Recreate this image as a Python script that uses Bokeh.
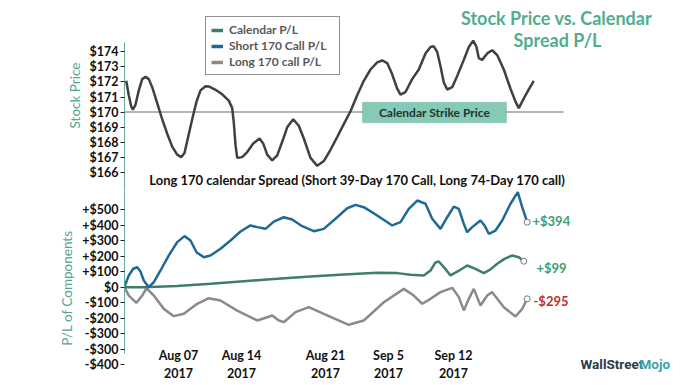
from bokeh.plotting import figure
from bokeh.layouts import column
from bokeh.models import (Range1d, FixedTicker, Legend, LegendItem, Label, BoxAnnotation)
from bokeh.embed import file_html
from bokeh.resources import INLINE

# ---------------- data ----------------
stock_x = [0.17, 0.43, 0.67, 0.83, 1.1, 1.43, 1.77, 2.1, 2.43, 2.77, 3.27, 3.77, 4.27, 4.77, 5.27, 5.67,
           6.0, 6.33, 6.77, 7.2, 7.6, 8.1, 8.43, 9.1, 9.77, 10.43, 10.77, 10.93, 11.1, 11.27, 11.77, 12.27,
           12.87, 13.5, 13.87, 14.27, 14.77, 15.27, 15.77, 16.27, 16.87, 17.43, 17.93, 18.6, 19.27, 19.93,
           20.6, 21.27, 21.93, 22.6, 23.27, 23.93, 24.6, 25.27, 25.77, 26.27, 26.77, 27.27, 27.6, 28.1,
           28.77, 29.43, 30.1, 30.6, 30.93, 31.27, 31.6, 31.93, 32.27, 32.77, 33.27, 33.93, 34.43, 34.87,
           35.2, 35.43, 35.77, 36.27, 36.77, 37.27, 37.93, 38.6, 39.1, 39.43, 39.93, 40.43, 40.93]
stock_price = [172.08, 171.12, 170.37, 170.16, 170.48, 171.44, 172.19, 172.34, 172.19, 171.65, 170.59,
               169.52, 168.56, 167.70, 167.17, 167.0, 167.27, 168.24, 169.52, 170.69, 171.44, 171.72,
               171.70, 171.48, 171.18, 170.76, 170.26, 169.30, 167.81, 166.95, 167.0, 167.34, 167.91,
               168.24, 167.91, 167.17, 166.78, 167.12, 168.02, 168.98, 169.52, 169.09, 168.24, 166.95,
               166.42, 166.74, 167.49, 168.34, 169.20, 170.05, 171.12, 172.08, 172.83, 173.30, 173.43,
               173.26, 172.51, 171.55, 171.16, 171.33, 172.19, 172.83, 173.90, 174.33, 174.37, 174.0,
               173.04, 171.97, 171.50, 171.65, 172.40, 173.47, 174.33, 174.75, 174.33, 173.58, 173.47,
               173.90, 174.11, 173.79, 172.83, 171.55, 170.69, 170.26, 170.91, 171.50, 172.08]
strike_price = 170

short_x = [0.0, 0.43, 0.87, 1.27, 1.6, 1.93, 2.43, 2.93, 3.6, 4.43, 5.27, 6.0, 6.6, 7.2, 7.93, 8.6, 9.6,
           10.6, 11.6, 12.6, 13.27, 14.1, 14.93, 15.93, 16.77, 17.77, 18.93, 19.93, 21.27, 22.27, 23.1,
           23.93, 25.27, 26.77, 27.6, 28.43, 29.27, 30.1, 30.77, 31.6, 32.27, 32.93, 33.43, 33.93, 34.27,
           34.77, 35.6, 36.0, 36.43, 37.1, 37.77, 38.6, 39.33, 39.77, 40.27]
short_pl = [5, 76, 119, 129, 101, 43, 0, 32, 108, 205, 291, 330, 302, 226, 194, 205, 248, 302, 360, 399,
            388, 377, 424, 452, 437, 394, 362, 377, 452, 510, 532, 517, 463, 399, 420, 506, 560, 539, 442,
            377, 452, 521, 506, 409, 355, 388, 431, 399, 345, 366, 431, 539, 614, 517, 420]

cal_x = [0.0, 1.93, 5.27, 8.6, 11.93, 15.27, 18.6, 21.93, 25.27, 27.27, 28.6, 29.93, 30.6, 31.1, 31.43,
         32.0, 32.6, 33.4, 34.27, 35.1, 35.93, 36.6, 37.27, 38.0, 38.77, 39.43, 39.93]
cal_pl = [0, 0, 7, 22, 39, 54, 69, 82, 93, 91, 80, 76, 108, 160, 166, 125, 76, 105, 140, 118, 91, 115,
          151, 183, 205, 194, 168]

long_x = [0.0, 0.43, 1.2, 1.77, 2.2, 2.93, 3.93, 4.93, 5.93, 7.27, 8.43, 9.6, 11.27, 13.27, 14.27, 14.77,
          15.43, 15.93, 17.1, 18.43, 19.93, 22.43, 23.93, 25.93, 27.93, 28.93, 29.77, 30.6, 31.6, 32.77,
          33.43, 33.93, 34.43, 34.93, 35.6, 36.27, 36.77, 37.93, 39.1, 39.77, 40.27]
long_pl = [0, -54, -101, -54, -6, -54, -140, -187, -172, -107, -71, -86, -151, -215, -194, -183, -215,
           -226, -161, -129, -172, -243, -215, -97, -11, -54, -107, -75, -32, -4, -64, -150, -75, -11,
           -118, -54, -32, -129, -189, -140, -75]

end_labels = ["+$394", "+$99", "-$295"]

date_ticks = [5.4, 11.7, 20.1, 26.4, 32.9]
date_labels = ["Aug 07\n2017", "Aug 14\n2017", "Aug 21\n2017", "Sep 5\n2017", "Sep 12\n2017"]

price_ticks = [166, 167, 168, 169, 170, 171, 172, 173, 174]
price_labels = ["$166", "$167", "$168", "$169", "$170", "$171", "$172", "$173", "$174"]

pl_ticks = [500, 400, 300, 200, 100, 0, -100, -200, -300, -400, -500]
pl_labels = ["+$500", "+$400", "+$300", "+$200", "+$100", "$0", "-$100", "-$200", "-$300", "-$300", "-$400"]

series_names = ["Calendar P/L", "Short 170 Call P/L", "Long 170 call P/L"]

# ---------------- style ----------------
FONT = "Lato"
TEAL = "#4fa68a"
C_CAL = "#3d7d6c"
C_SHORT = "#1f6a94"
C_LONG = "#8a8a8a"
C_STOCK = "#404040"
W = 680
LEFT = 124
XR = (0, (W - LEFT) / 10.0)


def style_axis(ax, ticks, labels):
    ax.ticker = FixedTicker(ticks=ticks)
    ax.major_label_overrides = {t: l for t, l in zip(ticks, labels)}
    ax.major_label_text_font = FONT
    ax.major_label_text_font_style = "bold"
    ax.major_label_text_font_size = "12.5px"
    ax.major_label_text_color = "#111111"
    ax.major_tick_in = 0
    ax.major_tick_out = 4
    ax.major_tick_line_color = "#222222"
    ax.minor_tick_line_color = None
    ax.axis_line_color = "#6aaa95"
    ax.axis_line_width = 1
    ax.major_label_standoff = 2
    ax.axis_label_text_font = FONT
    ax.axis_label_text_font_style = "normal"
    ax.axis_label_text_font_size = "13.5px"
    ax.axis_label_text_color = TEAL
    ax.axis_label_standoff = 4


# ---------------- top: stock price ----------------
p1 = figure(width=W, height=190, output_backend="svg", toolbar_location=None,
            x_range=Range1d(*XR), y_range=Range1d(164.78, 177.42),
            min_border_left=LEFT, min_border_right=0, min_border_top=0, min_border_bottom=0)
p1.outline_line_color = None
p1.grid.visible = False
p1.xaxis.visible = False
style_axis(p1.yaxis[0], price_ticks, price_labels)
p1.yaxis.axis_label = "Stock Price"
p1.yaxis.bounds = (164.78, 174.6)

p1.segment(x0=[0], x1=[43.9], y0=[strike_price], y1=[strike_price], line_color="#b4b4b4", line_width=2)
p1.line(stock_x, stock_price, line_color=C_STOCK, line_width=2.5)

box = BoxAnnotation(left=23.8, right=38.2, bottom=169.28, top=170.65,
                    fill_color="#86c9b6", fill_alpha=1.0, line_color="#5e9f8c", line_width=1)
p1.add_layout(box)
p1.add_layout(Label(x=31.0, y=169.96, text="Calendar Strike Price", text_align="center",
                    text_baseline="middle", text_font=FONT, text_font_style="bold",
                    text_font_size="12px", text_color="#1e3530"))

# legend (proxy renderers hold a single empty point so only the legend glyph shows)
leg_colors = [C_CAL, C_SHORT, C_LONG]
items = []
for name, col in zip(series_names, leg_colors):
    r = p1.line([float("nan")], [float("nan")], line_color=col, line_width=3.5)
    items.append(LegendItem(label=name, renderers=[r]))
legend = Legend(items=items, location=(81, 115), orientation="vertical",
                label_text_font=FONT, label_text_font_style="bold", label_text_font_size="12px",
                label_text_color="#595959", glyph_width=12, glyph_height=12, label_height=12,
                label_standoff=6, spacing=1, padding=5, margin=0, label_width=105,
                border_line_color="#222222", border_line_width=1, background_fill_color="white",
                background_fill_alpha=1.0)
p1.add_layout(legend)

p1.add_layout(Label(x=43.2, y=176.27, text="Stock Price vs. Calendar", text_align="center",
                    text_baseline="middle", text_font=FONT, text_font_style="bold",
                    text_font_size="18px", text_color="#52ad8f"))
p1.add_layout(Label(x=43.3, y=174.79, text="Spread P/L", text_align="center",
                    text_baseline="middle", text_font=FONT, text_font_style="bold",
                    text_font_size="18px", text_color="#52ad8f"))
p1.add_layout(Label(x=23.3, y=165.5,
                    text="Long 170 calendar Spread (Short 39-Day 170 Call, Long 74-Day 170 call)",
                    text_align="center", text_baseline="middle", text_font=FONT,
                    text_font_style="bold", text_font_size="13px", text_color="#111111"))

# ---------------- bottom: P/L components ----------------
p2 = figure(width=W, height=195, output_backend="svg", toolbar_location=None,
            x_range=Range1d(*XR), y_range=Range1d(-635, 624.7),
            min_border_left=LEFT, min_border_right=0, min_border_top=0, min_border_bottom=0)
p2.outline_line_color = None
p2.grid.visible = False
style_axis(p2.yaxis[0], pl_ticks, pl_labels)
p2.yaxis.axis_label = "P/L of Components"
p2.yaxis.bounds = (-430, 624.7)

xa = p2.xaxis[0]
xa.ticker = FixedTicker(ticks=date_ticks)
xa.major_label_overrides = {t: l for t, l in zip(date_ticks, date_labels)}
xa.fixed_location = -340
xa.axis_line_color = None
xa.major_tick_line_color = None
xa.minor_tick_line_color = None
xa.major_label_standoff = 2
xa.major_label_text_font = FONT
xa.major_label_text_font_style = "bold"
xa.major_label_text_font_size = "12.5px"
xa.major_label_text_color = "#111111"

p2.line(long_x, long_pl, line_color=C_LONG, line_width=2.5)
p2.line(cal_x, cal_pl, line_color=C_CAL, line_width=2.5)
p2.line(short_x, short_pl, line_color=C_SHORT, line_width=2.5)

p2.scatter([short_x[-1], cal_x[-1], long_x[-1]], [short_pl[-1], cal_pl[-1], long_pl[-1]],
           size=6, marker="circle", fill_color="white", line_color="#777777", line_width=1)

p2.add_layout(Label(x=40.8, y=430, text=end_labels[0], text_align="left", text_baseline="middle",
                    text_font=FONT, text_font_style="bold", text_font_size="13px", text_color="#3aa070"))
p2.add_layout(Label(x=41.2, y=127, text=end_labels[1], text_align="left", text_baseline="middle",
                    text_font=FONT, text_font_style="bold", text_font_size="13px", text_color="#3aa070"))
p2.add_layout(Label(x=40.9, y=-86, text=end_labels[2], text_align="left", text_baseline="middle",
                    text_font=FONT, text_font_style="bold", text_font_size="13px", text_color="#c0302a"))

p2.add_layout(Label(x=45.6, y=-495, text="WallStreet", text_align="left", text_baseline="middle",
                    text_font="Roboto", text_font_style="bold", text_font_size="13.5px", text_color="#2b3a4a"))
p2.add_layout(Label(x=51.5, y=-495, text="Mojo", text_align="left", text_baseline="middle",
                    text_font="Roboto", text_font_style="bold", text_font_size="13.5px", text_color="#3aa3a3"))

layout = column(p1, p2, spacing=0)
open("out.html", "w").write(file_html(layout, INLINE))
